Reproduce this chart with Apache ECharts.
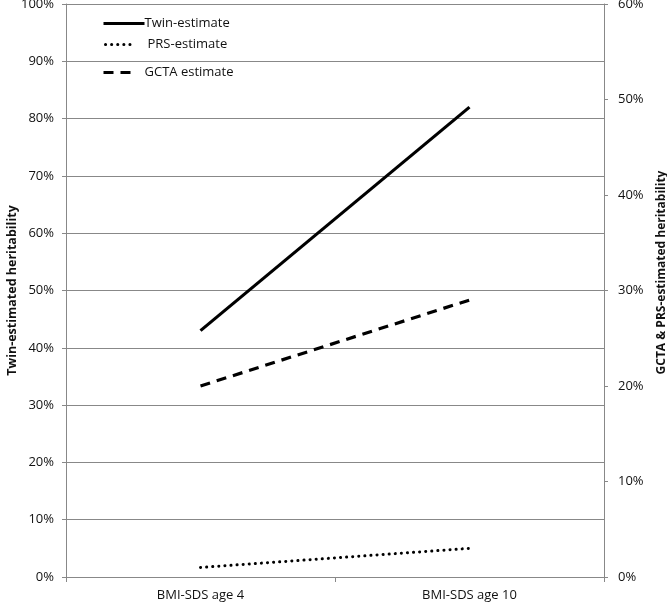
<!DOCTYPE html>
<html><head><meta charset="utf-8">
<script src="https://cdn.jsdelivr.net/npm/echarts@6/dist/echarts.min.js"></script>
<style>html,body{margin:0;padding:0;background:#fff}#c{width:667px;height:603px}</style>
</head><body><div id="c"></div>
<script>
const categories = ['BMI-SDS age 4', 'BMI-SDS age 10'];
const twinEstimate = [43, 82];      // left axis (%)
const prsEstimate = [1.0, 3.0];     // right axis (%)
const gctaEstimate = [20, 29];      // right axis (%)
const leftTicks = [0, 10, 20, 30, 40, 50, 60, 70, 80, 90, 100];
const rightTicks = [0, 10, 20, 30, 40, 50, 60];

const FONT = 'Open Sans';
const chart = echarts.init(document.getElementById('c'));
function mkLegend(name, left, top, w, gap) {
  return {
    show: true, orient: 'horizontal', left: left, top: top, padding: 0,
    itemWidth: w, itemHeight: 12, data: [name],
    itemStyle: {opacity: 0},
    lineStyle: {width: 3},
    textStyle: {fontFamily: FONT, fontSize: 13, color: '#111', padding: [0, 0, 0, gap]}
  };
}
chart.setOption({
  animation: false,
  backgroundColor: '#fff',
  grid: {left: 66, right: 63, top: 4, bottom: 26, containLabel: false, outerBoundsMode: 'none'},
  legend: [
    mkLegend('Twin-estimate', 102, 17, 41, -5),
    mkLegend('PRS-estimate', 104, 38, 30, 7),
    mkLegend('GCTA estimate', 102, 66, 34, 2)
  ],
  xAxis: {
    type: 'category', data: categories, boundaryGap: true,
    axisLine: {lineStyle: {color: '#888', width: 1}},
    axisTick: {show: true, length: 5, lineStyle: {color: '#888'}},
    axisLabel: {fontFamily: FONT, fontSize: 13, color: '#111', margin: 12}
  },
  yAxis: [
    {
      type: 'value', min: 0, max: 100, interval: 10, position: 'left',
      name: 'Twin-estimated heritability', nameLocation: 'middle', nameGap: 47, nameRotate: 90,
      nameMoveOverlap: false,
      nameTextStyle: {fontFamily: FONT, fontSize: 12.5, fontWeight: 'bold', color: '#111'},
      axisLine: {show: true, lineStyle: {color: '#888'}},
      axisTick: {show: true, length: 4, lineStyle: {color: '#888'}},
      splitLine: {show: true, lineStyle: {color: '#888', width: 1}},
      axisLabel: {fontFamily: FONT, fontSize: 13, color: '#111', margin: 12,
        formatter: v => leftTicks.includes(v) ? v + '%' : ''}
    },
    {
      type: 'value', min: 0, max: 60, interval: 10, position: 'right',
      name: 'GCTA & PRS-estimated heritability', nameLocation: 'middle', nameGap: 52, nameRotate: 90,
      nameMoveOverlap: false,
      nameTextStyle: {fontFamily: FONT, fontSize: 12, fontWeight: 'bold', color: '#111', padding: [0, 0, 0, 36]},
      axisLine: {show: true, lineStyle: {color: '#888'}},
      axisTick: {show: true, length: 4, lineStyle: {color: '#888'}},
      splitLine: {show: false},
      axisLabel: {fontFamily: FONT, fontSize: 13, color: '#111', margin: 14,
        formatter: v => rightTicks.includes(v) ? v + '%' : ''}
    }
  ],
  series: [
    {name: 'Twin-estimate', type: 'line', yAxisIndex: 0, data: twinEstimate,
      showSymbol: false, symbol: 'none', color: '#000',
      lineStyle: {color: '#000', width: 3.2}},
    {name: 'PRS-estimate', type: 'line', yAxisIndex: 1, data: prsEstimate,
      showSymbol: false, symbol: 'none', color: '#000',
      lineStyle: {color: '#000', width: 3, type: [0.1, 6], cap: 'round'}},
    {name: 'GCTA estimate', type: 'line', yAxisIndex: 1, data: gctaEstimate,
      showSymbol: false, symbol: 'none', color: '#000',
      lineStyle: {color: '#000', width: 3.2, type: [10, 7]}}
  ]
});
</script></body></html>
